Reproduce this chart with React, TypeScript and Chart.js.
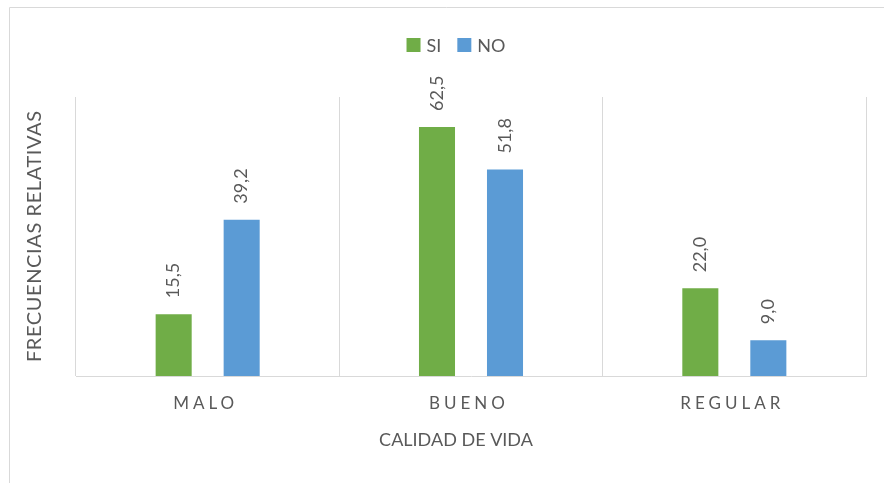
import React, { useEffect, useRef } from "react";
import { Chart, registerables } from "chart.js";

Chart.register(...registerables);

const categories = ["MALO", "BUENO", "REGULAR"];
const seriesNames = ["SI", "NO"];
const siValues = [15.5, 62.5, 22.0];
const noValues = [39.2, 51.8, 9.0];
const yAxisTitle = "FRECUENCIAS RELATIVAS";
const xAxisTitle = "CALIDAD DE VIDA";

const GREEN = "#70AD47";
const BLUE = "#5B9BD5";
const TEXT = "#595959";
const GRID = "#D9D9D9";
const FONT = "Lato, 'Open Sans', sans-serif";

const fmt = (v: number) => v.toFixed(1).replace(".", ",");

function spacedText(ctx: CanvasRenderingContext2D, text: string, cx: number, cy: number, spacing: number) {
  (ctx as any).letterSpacing = spacing + "px";
  const w = ctx.measureText(text).width;
  ctx.textAlign = "left";
  ctx.fillText(text, cx - (w - spacing) / 2, cy);
  (ctx as any).letterSpacing = "0px";
}

const overlay = {
  id: "overlay",
  beforeDraw(chart: any) {
    const ctx = chart.ctx as CanvasRenderingContext2D;
    ctx.save();
    ctx.strokeStyle = GRID;
    ctx.lineWidth = 1;
    ctx.beginPath();
    ctx.moveTo(9.5, chart.height);
    ctx.lineTo(9.5, 7.5);
    ctx.lineTo(chart.width, 7.5);
    ctx.stroke();
    ctx.restore();
  },
  afterDraw(chart: any) {
    const ctx = chart.ctx as CanvasRenderingContext2D;
    const { top, bottom } = chart.chartArea;
    ctx.save();
    ctx.fillStyle = TEXT;

    // data labels (rotated)
    ctx.font = `18px ${FONT}`;
    chart.data.datasets.forEach((ds: any, di: number) => {
      const meta = chart.getDatasetMeta(di);
      meta.data.forEach((bar: any, i: number) => {
        const p = bar.getProps(["x", "y"], true);
        ctx.save();
        ctx.translate(p.x, p.y - 16);
        ctx.rotate(-Math.PI / 2);
        ctx.textAlign = "left";
        ctx.textBaseline = "middle";
        ctx.fillText(fmt(ds.data[i]), 0, 0);
        ctx.restore();
      });
    });

    // x tick labels
    const xs = chart.scales.x;
    ctx.font = `17px ${FONT}`;
    ctx.textBaseline = "middle";
    categories.forEach((c, i) => {
      spacedText(ctx, c, xs.getPixelForValue(i) - 4, bottom + 28, 4);
    });

    // x axis title
    ctx.font = `18px ${FONT}`;
    spacedText(ctx, xAxisTitle, 456, bottom + 64, 0);

    // y axis title
    ctx.save();
    ctx.translate(35, (top + bottom) / 2);
    ctx.rotate(-Math.PI / 2);
    ctx.font = `20px ${FONT}`;
    ctx.textBaseline = "middle";
    spacedText(ctx, yAxisTitle, 0, 0, 0.6);
    ctx.restore();

    // legend
    ctx.font = `18px ${FONT}`;
    const box = 14;
    const gapBoxText = 6;
    const gapItems = 16;
    const widths = chart.data.datasets.map((ds: any) => ctx.measureText(ds.label).width);
    let total = 0;
    widths.forEach((w: number, i: number) => {
      total += box + gapBoxText + w + (i < widths.length - 1 ? gapItems : 0);
    });
    let x = 456 - total / 2;
    const ly = 45;
    chart.data.datasets.forEach((ds: any, i: number) => {
      ctx.fillStyle = ds.backgroundColor;
      ctx.fillRect(x, ly - box / 2, box, box);
      x += box + gapBoxText;
      ctx.fillStyle = TEXT;
      ctx.textAlign = "left";
      ctx.textBaseline = "middle";
      ctx.fillText(ds.label, x, ly + 1);
      x += widths[i] + gapItems;
    });

    ctx.restore();
  },
};

export default function App() {
  const ref = useRef<HTMLCanvasElement | null>(null);
  useEffect(() => {
    if (!ref.current) return;
    const chart = new Chart(ref.current, {
      type: "bar",
      data: {
        labels: categories,
        datasets: [
          { label: seriesNames[0], data: siValues, backgroundColor: GREEN, categoryPercentage: 0.5165, barPercentage: 0.53 },
          { label: seriesNames[1], data: noValues, backgroundColor: BLUE, categoryPercentage: 0.5165, barPercentage: 0.53 },
        ],
      },
      options: {
        animation: false,
        responsive: false,
        maintainAspectRatio: false,
        layout: { padding: { left: 76, right: 18, top: 97, bottom: 107 } },
        plugins: { legend: { display: false }, tooltip: { enabled: false } },
        scales: {
          x: {
            display: true,
            ticks: { display: false },
            grid: { color: GRID, drawTicks: false, offset: true },
            border: { color: GRID },
          },
          y: { display: false, min: 0, max: 70 },
        },
      },
      plugins: [overlay],
    });
    return () => chart.destroy();
  }, []);
  return (
    <div style={{ position: "fixed", left: 0, top: 0, width: 884, height: 483, background: "#fff" }}>
      <canvas ref={ref} width={884} height={483} style={{ display: "block", width: 884, height: 483 }} />
    </div>
  );
}
